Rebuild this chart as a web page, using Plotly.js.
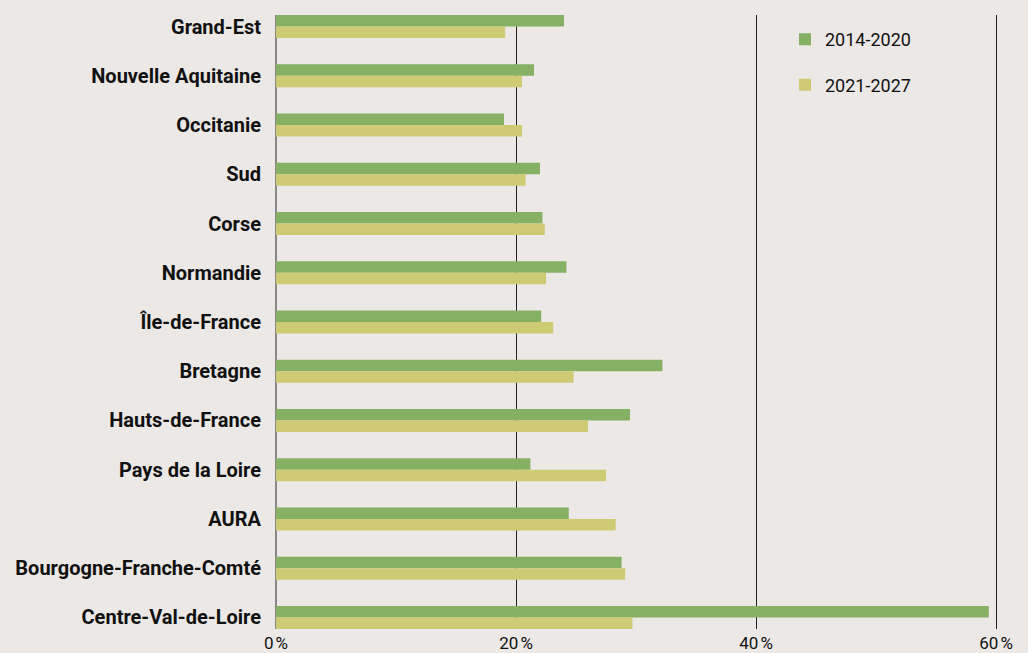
<!DOCTYPE html>
<html>
<head>
<meta charset="utf-8">
<script src="https://cdn.plot.ly/plotly-3.0.1.min.js"></script>
<style>
html,body{margin:0;padding:0;background:#ebe8e5;}
#chart{width:1028px;height:653px;}
</style>
</head>
<body>
<div id="chart"></div>
<script>
const regions = ["Grand-Est","Nouvelle Aquitaine","Occitanie","Sud","Corse","Normandie","Île-de-France","Bretagne","Hauts-de-France","Pays de la Loire","AURA","Bourgogne-Franche-Comté","Centre-Val-de-Loire"];
const series2014 = [24.0,21.5,19.0,22.0,22.2,24.2,22.1,32.2,29.5,21.2,24.4,28.8,59.4];
const series2021 = [19.1,20.5,20.5,20.8,22.4,22.5,23.1,24.8,26.0,27.5,28.3,29.1,29.7];
const seriesNames = ["2014-2020","2021-2027"];
const xTickVals = [0,20,40,60];
const xTickText = ["0\u202F%","20\u202F%","40\u202F%","60\u202F%"];

const traces = [
  {type:'bar', orientation:'h', y:regions, x:series2014, name:seriesNames[0],
   marker:{color:'#86b064'}, legendgroup:'a', hoverinfo:'x+y'},
  {type:'bar', orientation:'h', y:regions, x:series2021, name:seriesNames[1],
   marker:{color:'#cfca74'}, legendgroup:'b', hoverinfo:'x+y'}
];

const layout = {
  width:1028, height:653,
  paper_bgcolor:'#ebe8e5', plot_bgcolor:'#ebe8e5',
  margin:{l:276, r:29, t:15, b:24, pad:0},
  barmode:'group', bargap:0.531, bargroupgap:0,
  font:{family:'Roboto, sans-serif', color:'#111'},
  showlegend:true,
  legend:{x:0.704, xanchor:'left', y:0.99, yanchor:'top',
    bgcolor:'rgba(0,0,0,0)', font:{size:18, color:'#111'},
    traceorder:'grouped', tracegroupgap:19},
  xaxis:{range:[0,60.25], tickvals:xTickVals, ticktext:xTickText,
    showgrid:true, gridcolor:'#222', gridwidth:1,
    zeroline:true, zerolinecolor:'#888', zerolinewidth:2,
    showline:false, ticks:'', ticklabelstandoff:2,
    tickfont:{size:17, color:'#111'},
    fixedrange:true},
  yaxis:{type:'category', autorange:false, range:[12.234,-0.234],
    showgrid:false, zeroline:false, showline:false, ticks:'',
    ticklabelstandoff:14,
    tickfont:{size:20, color:'#111', weight:700}, fixedrange:true}
};

Plotly.newPlot('chart', traces, layout, {displayModeBar:false, staticPlot:true});
</script>
</body>
</html>
